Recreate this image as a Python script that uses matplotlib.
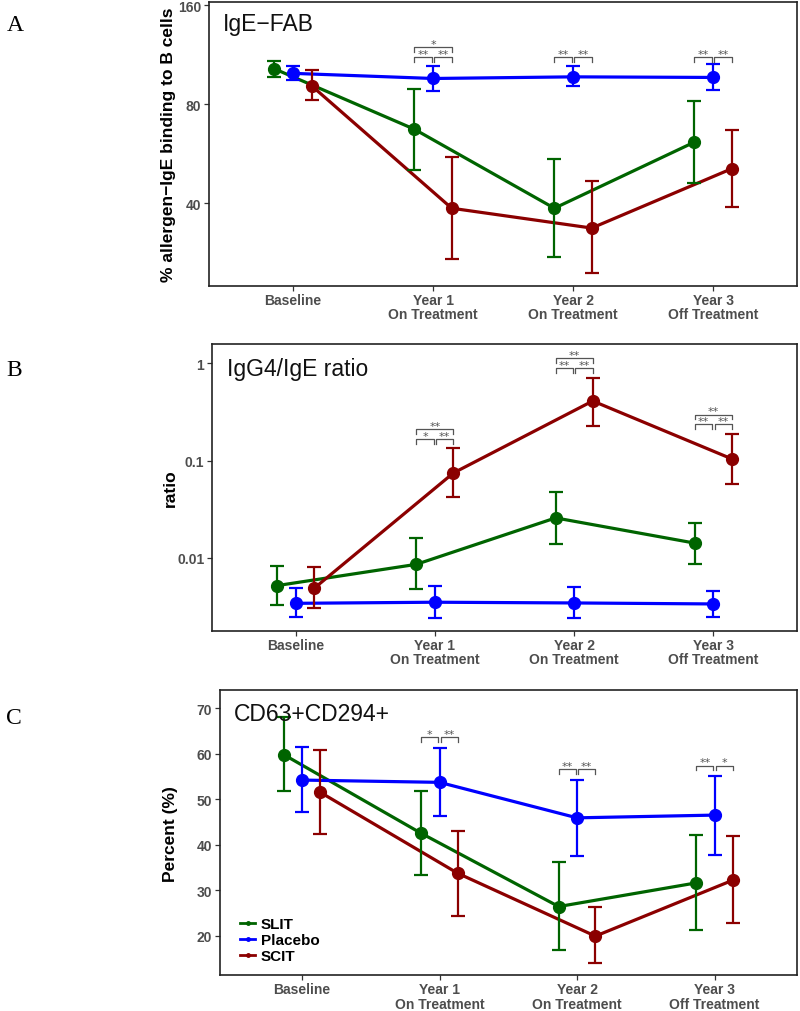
import matplotlib
matplotlib.use("Agg")
import matplotlib.pyplot as plt
from matplotlib.lines import Line2D
from matplotlib.ticker import FixedLocator, FixedFormatter, NullLocator
import numpy as np

plt.rcParams['font.family'] = ['Liberation Sans', 'DejaVu Sans']

categories = ['Baseline', 'Year 1\nOn Treatment', 'Year 2\nOn Treatment', 'Year 3\nOff Treatment']
groups = ['SLIT', 'Placebo', 'SCIT']
colors = {'SLIT': '#006400', 'Placebo': '#0000FF', 'SCIT': '#8B0000'}

# Panel A: % allergen-IgE binding to B cells
a_slit_mean = [102.4, 67.1, 38.6, 61.3]
a_slit_lo = [96.6, 50.4, 27.5, 46.0]
a_slit_hi = [108.0, 88.8, 54.4, 81.8]
a_plac_mean = [99.2, 95.7, 96.8, 96.4]
a_plac_lo = [94.4, 87.7, 90.7, 88.0]
a_plac_hi = [104.7, 104.3, 104.3, 106.1]
a_scit_mean = [90.9, 38.6, 33.6, 50.9]
a_scit_lo = [82.4, 27.0, 24.5, 39.0]
a_scit_hi = [101.3, 55.4, 46.7, 66.7]

# Panel B: IgG4/IgE ratio
b_slit_mean = [0.0052, 0.0086, 0.0258, 0.0142]
b_slit_lo = [0.00326, 0.00477, 0.0139, 0.00874]
b_slit_hi = [0.0082, 0.0159, 0.0477, 0.0227]
b_plac_mean = [0.00342, 0.00351, 0.00345, 0.00337]
b_plac_lo = [0.00246, 0.0024, 0.00244, 0.0025]
b_plac_hi = [0.00492, 0.0052, 0.0050, 0.00458]
b_scit_mean = [0.00488, 0.0747, 0.410, 0.104]
b_scit_lo = [0.00304, 0.042, 0.229, 0.0576]
b_scit_hi = [0.0080, 0.135, 0.713, 0.189]

# Panel C: CD63+CD294+ percent
c_slit_mean = [59.8, 42.5, 26.4, 31.6]
c_slit_lo = [51.7, 33.3, 16.9, 21.2]
c_slit_hi = [68.0, 51.8, 36.1, 42.1]
c_plac_mean = [54.2, 53.7, 45.9, 46.5]
c_plac_lo = [47.1, 46.2, 37.6, 37.8]
c_plac_hi = [61.5, 61.3, 54.2, 55.0]
c_scit_mean = [51.5, 33.7, 19.9, 32.2]
c_scit_lo = [42.3, 24.3, 13.9, 22.8]
c_scit_hi = [60.9, 43.1, 26.2, 42.0]

# Significance brackets: (category index, pair, label)
a_sig = [(1, 'all', '*'), (1, 'lo', '**'), (1, 'hi', '**'),
         (2, 'lo', '**'), (2, 'hi', '**'),
         (3, 'lo', '**'), (3, 'hi', '**')]
b_sig = [(1, 'all', '**'), (1, 'lo', '*'), (1, 'hi', '**'),
         (2, 'all', '**'), (2, 'lo', '**'), (2, 'hi', '**'),
         (3, 'all', '**'), (3, 'lo', '**'), (3, 'hi', '**')]
c_sig = [(1, 'lo', '*'), (1, 'hi', '**'),
         (2, 'lo', '**'), (2, 'hi', '**'),
         (3, 'lo', '**'), (3, 'hi', '*')]

panels = [
    dict(tag='A', title='IgE\u2212FAB', ylabel='% allergen\u2212IgE binding to B cells',
         data={'SLIT': (a_slit_mean, a_slit_lo, a_slit_hi),
               'Placebo': (a_plac_mean, a_plac_lo, a_plac_hi),
               'SCIT': (a_scit_mean, a_scit_lo, a_scit_hi)},
         scale='log', ylim=(22.4, 163.4), ticks=[40, 80, 160], ticklabels=['40', '80', '160'],
         rect=[0.2613, 0.7164, 0.735, 0.2806], sig=a_sig,
         levels={1: (0.805, 0.840), 2: (0.805, 0.840), 3: (0.805, 0.840)},
         title_xy=(0.023, 0.9025), ylab_x=-0.056, tag_y=0.975),
    dict(tag='B', title='IgG4/IgE ratio', ylabel='ratio',
         data={'SLIT': (b_slit_mean, b_slit_lo, b_slit_hi),
               'Placebo': (b_plac_mean, b_plac_lo, b_plac_hi),
               'SCIT': (b_scit_mean, b_scit_lo, b_scit_hi)},
         scale='log', ylim=(0.00179, 1.56), ticks=[0.01, 0.1, 1], ticklabels=['0.01', '0.1', '1'],
         rect=[0.265, 0.3758, 0.7313, 0.2828], sig=b_sig,
         levels={1: (0.670, 0.705), 2: (0.917, 0.953), 3: (0.722, 0.755)},
         title_xy=(0.025, 0.893), ylab_x=-0.058, tag_y=0.634),
    dict(tag='C', title='CD63+CD294+', ylabel='Percent (%)',
         data={'SLIT': (c_slit_mean, c_slit_lo, c_slit_hi),
               'Placebo': (c_plac_mean, c_plac_lo, c_plac_hi),
               'SCIT': (c_scit_mean, c_scit_lo, c_scit_hi)},
         scale='linear', ylim=(11.25, 74.0), ticks=[20, 30, 40, 50, 60, 70],
         ticklabels=['20', '30', '40', '50', '60', '70'],
         rect=[0.2744, 0.0351, 0.7219, 0.2821], sig=c_sig,
         levels={1: (0.834, None), 2: (0.723, None), 3: (0.735, None)},
         title_xy=(0.024, 0.895), ylab_x=-0.072, tag_y=0.290),
]

fig = plt.figure(figsize=(8.0, 10.12), dpi=100)
dodge = {'SLIT': -0.4 / 3, 'Placebo': 0.0, 'SCIT': 0.4 / 3}
xpos = np.arange(1, len(categories) + 1)
tick_gray = '#4D4D4D'

for p in panels:
    ax = fig.add_axes(p['rect'])
    ax.set_yscale(p['scale'])
    for g in groups:
        mean, lo, hi = p['data'][g]
        x = xpos + dodge[g]
        mean = np.array(mean)
        yerr = np.vstack([mean - np.array(lo), np.array(hi) - mean])
        ax.plot(x, mean, color=colors[g], lw=2.3, zorder=2, solid_capstyle='round')
        ax.errorbar(x, mean, yerr=yerr, fmt='none', ecolor=colors[g], elinewidth=1.6,
                    capsize=5, capthick=1.6, zorder=3)
        ax.plot(x, mean, 'o', color=colors[g], ms=8.5, zorder=4)
    ax.set_xlim(0.4, 4.6)
    ax.set_ylim(*p['ylim'])
    ax.set_xticks(xpos)
    ax.set_xticklabels(categories, fontsize=10, fontweight='bold', color=tick_gray,
                       linespacing=1.05)
    ax.yaxis.set_major_locator(FixedLocator(p['ticks']))
    ax.yaxis.set_major_formatter(FixedFormatter(p['ticklabels']))
    ax.yaxis.set_minor_locator(NullLocator())
    for lab in ax.get_yticklabels():
        lab.set_fontsize(10)
        lab.set_fontweight('bold')
        lab.set_color(tick_gray)
    ax.tick_params(axis='both', length=3.5, width=0.9, color='#333333', pad=2)
    ax.tick_params(axis='x', pad=1.5)
    for s in ax.spines.values():
        s.set_linewidth(1.2)
        s.set_color('#222222')
    ax.set_ylabel(p['ylabel'], fontsize=12.5, fontweight='bold', color='black')
    ax.yaxis.set_label_coords(p['ylab_x'], 0.5)
    ax.text(p['title_xy'][0], p['title_xy'][1], p['title'], transform=ax.transAxes,
            fontsize=16.5, va='baseline', ha='left', color='#111111')
    fig.text(0.008, p['tag_y'], p['tag'], fontsize=17, family='Liberation Serif',
             va='center', ha='left')

    trans = ax.get_xaxis_transform()
    leg = 0.016
    for cat, pair, label in p['sig']:
        low_level, top_level = p['levels'][cat]
        c = xpos[cat]
        if pair == 'lo':
            x0, x1, yl = c + dodge['SLIT'], c - 0.008, low_level
        elif pair == 'hi':
            x0, x1, yl = c + 0.008, c + dodge['SCIT'], low_level
        else:
            x0, x1, yl = c + dodge['SLIT'], c + dodge['SCIT'], top_level
        ax.plot([x0, x0, x1, x1], [yl - leg, yl, yl, yl - leg], transform=trans,
                color='#555555', lw=0.9, clip_on=False, zorder=5)
        ax.text((x0 + x1) / 2, yl - 0.006, label, transform=trans, ha='center',
                va='bottom', fontsize=8, color='#555555', family='DejaVu Sans')

    if p['tag'] == 'C':
        handles = [Line2D([0], [0], color=colors[g], lw=2, marker='o', ms=2.5)
                   for g in groups]
        ax.legend(handles, groups, loc='lower left', bbox_to_anchor=(0.025, 0.022),
                  frameon=False, handlelength=1.0, handletextpad=0.35,
                  labelspacing=0.12, borderaxespad=0.0,
                  prop={'weight': 'bold', 'size': 11})

fig.savefig('out.png', dpi=100)
